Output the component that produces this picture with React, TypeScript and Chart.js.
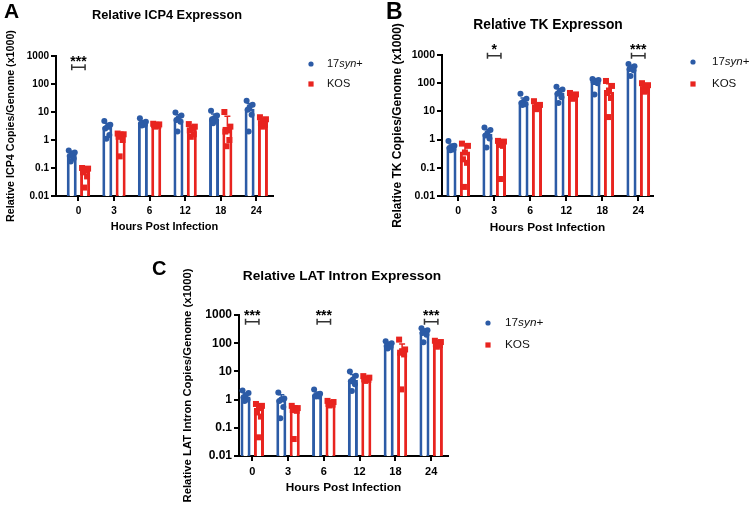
import React, { useEffect, useRef } from 'react';
import { Chart, registerables } from 'chart.js';

Chart.register(...registerables);

// ---------- shared labels ----------
const HOURS = ['0', '3', '6', '12', '18', '24'];
const Y_TICKS = [0.01, 0.1, 1, 10, 100, 1000];
const Y_TICK_LABELS = ['0.01', '0.1', '1', '10', '100', '1000'];
const SERIES_NAMES = ['17syn+', 'KOS'];
const SYN_LABEL_PARTS: [string, boolean][] = [['17', false], ['syn', true], ['+', false]];
const X_TITLE = 'Hours Post Infection';

// ---------- Panel A: ICP4 ----------
const icp4SynMean = [0.3, 3.0, 4.2, 5.5, 5.8, 13];
const icp4SynSd = [0.1, 1.0, 0.8, 2.5, 2.7, 7];
const icp4SynPts = [
  [0.42, 0.36, 0.3, 0.27, 0.22, 0.17],
  [4.8, 3.5, 3.0, 2.6, 1.5, 1.1],
  [6.0, 4.5, 4.0, 3.8, 3.5, 3.3],
  [9.5, 7.5, 6.0, 5.2, 4.5, 2.0],
  [11, 7.5, 6.0, 5.5, 5.0, 4.0],
  [25, 18, 15, 12, 8, 2],
];
const icp4KosMean = [0.08, 1.4, 3.4, 2.5, 3.0, 4.3];
const icp4KosSd = [0.03, 0.5, 0.3, 0.8, 4.0, 1.3];
const icp4KosPts = [
  [0.1, 0.095, 0.085, 0.07, 0.05, 0.02],
  [1.7, 1.6, 1.5, 1.3, 1.0, 0.26],
  [3.8, 3.6, 3.5, 3.4, 3.2, 3.0],
  [3.7, 3.0, 2.6, 2.2, 1.6, 1.3],
  [10, 3.0, 2.2, 2.0, 1.0, 0.6],
  [6.5, 5.5, 4.5, 4.0, 3.5, 3.0],
];
const icp4Sig = [{ cat: 0, label: '***', y: 400 }];

// ---------- Panel B: TK ----------
const tkSynMean = [0.55, 1.6, 22, 45, 110, 330];
const tkSynSd = [0.15, 0.7, 8, 18, 35, 100];
const tkSynPts = [
  [0.9, 0.6, 0.55, 0.5, 0.45, 0.42],
  [2.7, 2.2, 1.7, 1.4, 1.1, 0.52],
  [42, 28, 22, 20, 18, 17],
  [75, 60, 50, 42, 32, 20],
  [140, 130, 122, 112, 100, 40],
  [480, 400, 350, 320, 290, 180],
];
const tkKosMean = [0.38, 0.65, 15, 35, 50, 70];
const tkKosSd = [0.25, 0.3, 3.5, 6, 45, 18];
const tkKosPts = [
  [0.72, 0.6, 0.35, 0.2, 0.15, 0.021],
  [0.9, 0.85, 0.75, 0.7, 0.6, 0.04],
  [23, 17, 15, 14, 13, 12],
  [45, 40, 36, 32, 30, 28],
  [120, 80, 55, 45, 30, 6.3],
  [100, 85, 72, 62, 55, 50],
];
const tkSig = [
  { cat: 1, label: '*', y: 950 },
  { cat: 5, label: '***', y: 950 },
];

// ---------- Panel C: LAT intron ----------
const latSynMean = [1.3, 1.0, 1.5, 5.0, 85, 250];
const latSynSd = [0.4, 0.5, 0.35, 2.8, 20, 70];
const latSynPts = [
  [2.1, 1.7, 1.4, 1.2, 1.0, 0.9],
  [1.8, 1.1, 1.0, 0.9, 0.55, 0.22],
  [2.3, 1.6, 1.45, 1.35, 1.3, 1.3],
  [10, 7, 5.2, 4.5, 3.5, 2.0],
  [118, 100, 90, 80, 75, 65],
  [340, 290, 260, 230, 200, 108],
];
const latKosMean = [0.5, 0.45, 0.75, 5.5, 48, 95];
const latKosSd = [0.2, 0.15, 0.1, 0.8, 45, 20];
const latKosPts = [
  [0.7, 0.6, 0.5, 0.35, 0.25, 0.046],
  [0.6, 0.5, 0.46, 0.43, 0.4, 0.04],
  [0.9, 0.82, 0.76, 0.7, 0.66, 0.62],
  [6.8, 6.0, 5.6, 5.2, 5.0, 4.6],
  [134, 60, 52, 46, 40, 2.3],
  [122, 110, 100, 92, 85, 75],
];
const latSig = [
  { cat: 0, label: '***', y: 575 },
  { cat: 2, label: '***', y: 575 },
  { cat: 5, label: '***', y: 575 },
];

// ---------- styles ----------
const W = 750;
const H = 508;
const FONT = '"Liberation Sans", Arial, Helvetica, sans-serif';
const BLUE = '#2c5ba6';
const RED = '#e8241f';
const COLORS = [BLUE, RED];
const JITTER = [-3, 3, 0, -2, 2, -1];

type Sig = { cat: number; label: string; y: number };
type PanelCfg = {
  letter: string; letterX: number; letterY: number; letterSize: number;
  title: string; titleX: number; titleY: number; titleSize: number;
  yTitle: string; yTitleX: number; yTitleSize: number;
  xTitleY: number; xTitleSize: number;
  area: { l: number; r: number; t: number; b: number };
  xMin: number; xMax: number;
  yTickSize: number; xTickSize: number;
  legendX: number; legendTextX: number; legendY1: number; legendY2: number; legendSize: number;
  means: number[][]; sds: number[][]; pts: number[][][];
  sig: Sig[];
};

const PANELS: PanelCfg[] = [
  {
    letter: 'A', letterX: 4, letterY: 17.5, letterSize: 21,
    title: 'Relative ICP4 Expresson', titleX: 167, titleY: 15, titleSize: 12.8,
    yTitle: 'Relative ICP4 Copies/Genome (x1000)', yTitleX: 11, yTitleSize: 10.7,
    xTitleY: 227, xTitleSize: 11,
    area: { l: 56, r: 273, t: 56, b: 196 },
    xMin: -0.63, xMax: 5.47,
    yTickSize: 10, xTickSize: 10,
    legendX: 311, legendTextX: 327, legendY1: 64, legendY2: 84, legendSize: 11,
    means: [icp4SynMean, icp4KosMean], sds: [icp4SynSd, icp4KosSd], pts: [icp4SynPts, icp4KosPts],
    sig: icp4Sig,
  },
  {
    letter: 'B', letterX: 386, letterY: 18.5, letterSize: 23,
    title: 'Relative TK Expresson', titleX: 548, titleY: 25, titleSize: 13.8,
    yTitle: 'Relative TK Copies/Genome (x1000)', yTitleX: 398, yTitleSize: 12,
    xTitleY: 228, xTitleSize: 11.8,
    area: { l: 442, r: 653, t: 55, b: 196 },
    xMin: -0.45, xMax: 5.41,
    yTickSize: 10.5, xTickSize: 10.5,
    legendX: 693, legendTextX: 712, legendY1: 62, legendY2: 84, legendSize: 11.5,
    means: [tkSynMean, tkKosMean], sds: [tkSynSd, tkKosSd], pts: [tkSynPts, tkKosPts],
    sig: tkSig,
  },
  {
    letter: 'C', letterX: 152, letterY: 275, letterSize: 20,
    title: 'Relative LAT Intron Expresson', titleX: 342, titleY: 276, titleSize: 13.7,
    yTitle: 'Relative LAT Intron Copies/Genome (x1000)', yTitleX: 188, yTitleSize: 11.3,
    xTitleY: 488, xTitleSize: 11.8,
    area: { l: 239, r: 448, t: 315, b: 456 },
    xMin: -0.37, xMax: 5.47,
    yTickSize: 12, xTickSize: 11,
    legendX: 488, legendTextX: 505, legendY1: 323, legendY2: 345, legendSize: 11.8,
    means: [latSynMean, latKosMean], sds: [latSynSd, latKosSd], pts: [latSynPts, latKosPts],
    sig: latSig,
  },
];

function buildConfig(cfg: PanelCfg): any {
  const lh = (s: number) => s * 1.2;
  const yScaleLeft = cfg.yTitleX - lh(cfg.yTitleSize) / 2;
  const xScaleBottom = cfg.xTitleY + lh(cfg.xTitleSize) / 2;
  const a = cfg.area;

  const overlay = {
    id: 'overlay' + cfg.letter,
    afterDatasetsDraw(chart: any) {
      const ctx = chart.ctx as CanvasRenderingContext2D;
      const ys = chart.scales.y;
      ctx.save();
      [0, 1].forEach((d) => {
        const meta = chart.getDatasetMeta(d);
        const color = COLORS[d];
        meta.data.forEach((el: any, j: number) => {
          const cx = el.x;
          const top = ys.getPixelForValue(cfg.means[d][j] + cfg.sds[d][j]);
          ctx.strokeStyle = color;
          ctx.lineWidth = 1.5;
          ctx.beginPath();
          ctx.moveTo(cx, el.y);
          ctx.lineTo(cx, top);
          ctx.moveTo(cx - 3, top);
          ctx.lineTo(cx + 3, top);
          ctx.stroke();
          ctx.fillStyle = color;
          cfg.pts[d][j].forEach((v, k) => {
            const px = cx + JITTER[k % JITTER.length];
            const py = ys.getPixelForValue(v);
            if (d === 0) {
              ctx.beginPath();
              ctx.arc(px, py, 3, 0, Math.PI * 2);
              ctx.fill();
            } else {
              ctx.fillRect(px - 3, py - 3, 6, 6);
            }
          });
        });
      });
      // significance brackets
      const m0 = chart.getDatasetMeta(0);
      const m1 = chart.getDatasetMeta(1);
      cfg.sig.forEach((s) => {
        const x0 = m0.data[s.cat].x;
        const x1 = m1.data[s.cat].x;
        const yb = ys.getPixelForValue(s.y);
        ctx.strokeStyle = '#333';
        ctx.lineWidth = 1.5;
        ctx.beginPath();
        ctx.moveTo(x0, yb);
        ctx.lineTo(x1, yb);
        ctx.moveTo(x0, yb - 3);
        ctx.lineTo(x0, yb + 3);
        ctx.moveTo(x1, yb - 3);
        ctx.lineTo(x1, yb + 3);
        ctx.stroke();
        ctx.fillStyle = '#000';
        ctx.font = `bold 14px ${FONT}`;
        ctx.textAlign = 'center';
        ctx.textBaseline = 'alphabetic';
        ctx.fillText(s.label, (x0 + x1) / 2, yb - 1.5);
      });
      ctx.restore();
    },
    afterDraw(chart: any) {
      const ctx = chart.ctx as CanvasRenderingContext2D;
      ctx.save();
      ctx.fillStyle = '#000';
      // letter
      ctx.font = `bold ${cfg.letterSize}px ${FONT}`;
      ctx.textAlign = 'left';
      ctx.textBaseline = 'alphabetic';
      ctx.fillText(cfg.letter, cfg.letterX, cfg.letterY);
      // title
      ctx.font = `bold ${cfg.titleSize}px ${FONT}`;
      ctx.textAlign = 'center';
      ctx.textBaseline = 'middle';
      ctx.fillText(cfg.title, cfg.titleX, cfg.titleY);
      // legend markers
      ctx.fillStyle = BLUE;
      ctx.beginPath();
      ctx.arc(cfg.legendX, cfg.legendY1, 2.6, 0, Math.PI * 2);
      ctx.fill();
      ctx.fillStyle = RED;
      ctx.fillRect(cfg.legendX - 2.6, cfg.legendY2 - 2.6, 5.2, 5.2);
      // legend text
      ctx.fillStyle = '#111';
      ctx.textAlign = 'left';
      ctx.textBaseline = 'middle';
      let x = cfg.legendTextX;
      SYN_LABEL_PARTS.forEach(([txt, it]) => {
        ctx.font = `${it ? 'italic ' : ''}${cfg.legendSize}px ${FONT}`;
        ctx.fillText(txt, x, cfg.legendY1);
        x += ctx.measureText(txt).width;
      });
      ctx.font = `${cfg.legendSize}px ${FONT}`;
      ctx.fillText(SERIES_NAMES[1], cfg.legendTextX, cfg.legendY2);
      ctx.restore();
    },
  };

  return {
    type: 'bar',
    data: {
      datasets: [0, 1].map((d) => ({
        label: SERIES_NAMES[d],
        data: cfg.means[d].map((v, i) => ({ x: i, y: v })),
        backgroundColor: '#ffffff',
        borderColor: COLORS[d],
        borderWidth: 3,
        borderSkipped: 'start',
        categoryPercentage: 0.75,
        barPercentage: 0.75,
      })),
    },
    options: {
      responsive: false,
      animation: false,
      events: [],
      layout: {
        padding: { left: yScaleLeft, right: W - a.r, top: a.t, bottom: H - xScaleBottom },
      },
      plugins: {
        legend: { display: false },
        tooltip: { enabled: false },
        title: { display: false },
      },
      scales: {
        x: {
          type: 'linear',
          min: cfg.xMin,
          max: cfg.xMax,
          bounds: 'data',
          offset: false,
          afterBuildTicks: (s: any) => {
            s.ticks = HOURS.map((_, i) => ({ value: i }));
          },
          afterFit: (s: any) => {
            s.height = xScaleBottom - a.b;
          },
          ticks: {
            callback: (v: any) => HOURS[Math.round(Number(v))] ?? '',
            font: { family: FONT, size: cfg.xTickSize, weight: 'bold' },
            color: '#000',
            padding: 4,
            autoSkip: false,
            maxRotation: 0,
          },
          grid: {
            display: true,
            offset: false,
            drawOnChartArea: false,
            drawTicks: true,
            tickLength: 5,
            color: '#000',
            lineWidth: 2,
          },
          border: { display: true, color: '#000', width: 2 },
          title: {
            display: true,
            text: X_TITLE,
            font: { family: FONT, size: cfg.xTitleSize, weight: 'bold' },
            color: '#000',
            padding: 0,
          },
        },
        y: {
          type: 'logarithmic',
          min: 0.01,
          max: 1000,
          afterBuildTicks: (s: any) => {
            s.ticks = Y_TICKS.map((v) => ({ value: v }));
          },
          afterFit: (s: any) => {
            s.width = a.l - yScaleLeft;
          },
          ticks: {
            callback: (v: any) => {
              const i = Y_TICKS.indexOf(Number(v));
              return i >= 0 ? Y_TICK_LABELS[i] : '';
            },
            font: { family: FONT, size: cfg.yTickSize, weight: 'bold' },
            color: '#000',
            padding: 2,
            autoSkip: false,
          },
          grid: {
            display: true,
            drawOnChartArea: false,
            drawTicks: true,
            tickLength: 5,
            color: '#000',
            lineWidth: 2,
          },
          border: { display: true, color: '#000', width: 2 },
          title: {
            display: true,
            text: cfg.yTitle,
            font: { family: FONT, size: cfg.yTitleSize, weight: 'bold' },
            color: '#000',
            padding: 0,
          },
        },
      },
    },
    plugins: [overlay],
  };
}

function Panel({ cfg }: { cfg: PanelCfg }) {
  const ref = useRef<HTMLCanvasElement>(null);
  useEffect(() => {
    if (!ref.current) return;
    const chart = new Chart(ref.current, buildConfig(cfg));
    return () => chart.destroy();
  }, [cfg]);
  return (
    <canvas
      ref={ref}
      width={W}
      height={H}
      style={{ position: 'absolute', left: 0, top: 0, width: W, height: H }}
    />
  );
}

export default function App() {
  return (
    <div
      style={{
        position: 'absolute',
        left: 0,
        top: 0,
        width: W,
        height: H,
        background: '#ffffff',
        overflow: 'hidden',
      }}
    >
      {PANELS.map((p) => (
        <Panel key={p.letter} cfg={p} />
      ))}
    </div>
  );
}
